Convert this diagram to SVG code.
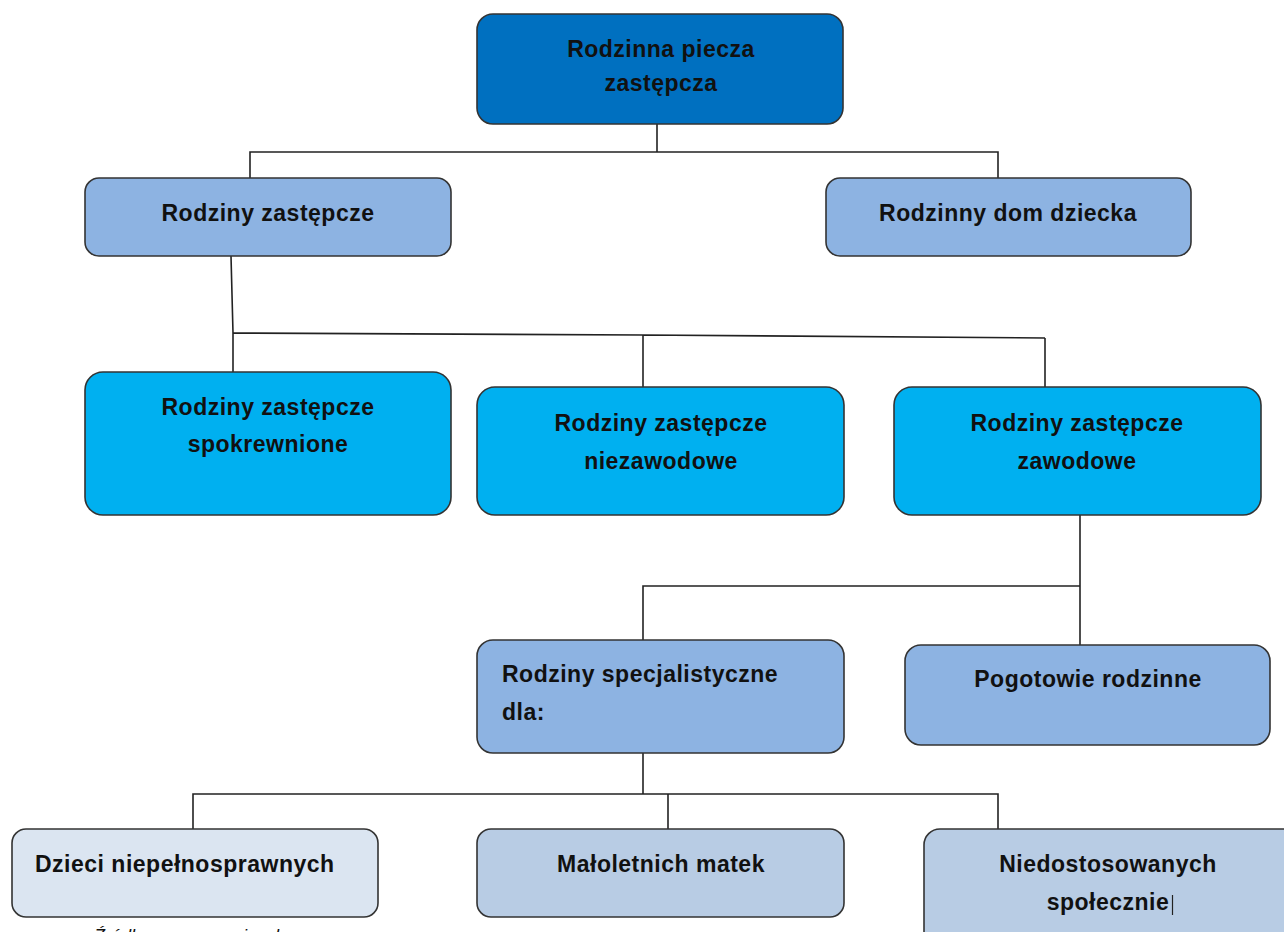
<svg xmlns="http://www.w3.org/2000/svg" width="1284" height="932" viewBox="0 0 1284 932">
<style>
.box{stroke:#333;stroke-width:1.6}
.c1{fill:#0070C0}
.c2{fill:#8DB3E2}
.c3{fill:#00B0F0}
.c4{fill:#B8CCE4}
.c5{fill:#DBE5F1}
text{font-family:"Liberation Sans",Arial,sans-serif;font-weight:bold;font-size:23px;letter-spacing:0.5px;fill:#111}
.m{text-anchor:middle}
.conn{fill:none;stroke:#222;stroke-width:1.6}
.src{font-style:italic;font-weight:normal;font-size:18px;letter-spacing:0}
</style>
<rect width="1284" height="932" fill="#fff"/>
<g id="connectors" class="conn">
<path d="M657 124V152M250 179V152H998V179"/>
<path d="M231 256L233 333V372M233 333L643 335L1045 338M643 335V387M1045 338V387"/>
<path d="M1080 515V645M643 640V586H1080"/>
<path d="M643 753V794M193 829V794H998V829M668 794V829"/>
</g>
<g id="n_root"><rect class="box c1" x="477" y="14" width="366" height="110" rx="16"/><text class="m" x="661" y="57">Rodzinna piecza</text><text class="m" x="661" y="91">zastępcza</text></g>
<g id="n_rz"><rect class="box c2" x="85" y="178" width="366" height="78" rx="14"/><text class="m" x="268" y="221">Rodziny zastępcze</text></g>
<g id="n_rdd"><rect class="box c2" x="826" y="178" width="365" height="78" rx="14"/><text class="m" x="1008" y="221">Rodzinny dom dziecka</text></g>
<g id="n_spok"><rect class="box c3" x="85" y="372" width="366" height="143" rx="18"/><text class="m" x="268" y="415">Rodziny zastępcze</text><text class="m" x="268" y="452">spokrewnione</text></g>
<g id="n_niez"><rect class="box c3" x="477" y="387" width="367" height="128" rx="18"/><text class="m" x="661" y="431">Rodziny zastępcze</text><text class="m" x="661" y="469">niezawodowe</text></g>
<g id="n_zaw"><rect class="box c3" x="894" y="387" width="367" height="128" rx="18"/><text class="m" x="1077" y="431">Rodziny zastępcze</text><text class="m" x="1077" y="469">zawodowe</text></g>
<g id="n_spec"><rect class="box c2" x="477" y="640" width="367" height="113" rx="16"/><text x="502" y="682">Rodziny specjalistyczne</text><text x="502" y="720">dla:</text></g>
<g id="n_pog"><rect class="box c2" x="905" y="645" width="365" height="100" rx="16"/><text class="m" x="1088" y="687">Pogotowie rodzinne</text></g>
<g id="n_dzieci"><rect class="box c5" x="12" y="829" width="366" height="88" rx="14"/><text x="35" y="872">Dzieci niepełnosprawnych</text></g>
<g id="n_mat"><rect class="box c4" x="477" y="829" width="367" height="88" rx="14"/><text class="m" x="661" y="872">Małoletnich matek</text></g>
<g id="n_nied"><rect class="box c4" x="924" y="829" width="380" height="120" rx="16"/><text class="m" x="1108" y="872">Niedostosowanych</text><text class="m" x="1108" y="910">społecznie</text><line x1="1172.5" y1="895" x2="1172.5" y2="915" stroke="#222" stroke-width="1.2"/></g>
<text class="src" x="94" y="942">Źródło: opracowanie własne</text>
</svg>
